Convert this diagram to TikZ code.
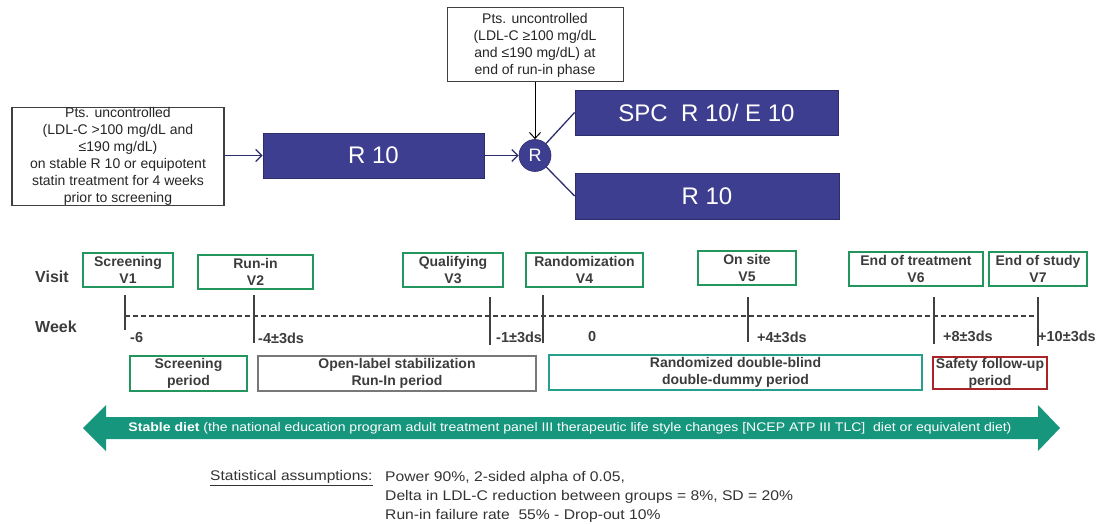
\documentclass[tikz,border=0pt]{standalone}
\usepackage{fontspec}
\setmainfont{Liberation Sans}
\usetikzlibrary{arrows.meta}
\definecolor{navy}{RGB}{62,62,145}
\definecolor{navyedge}{RGB}{45,45,110}
\definecolor{vgreen}{RGB}{34,150,92}
\definecolor{tealbox}{RGB}{38,160,140}
\definecolor{graybox}{RGB}{120,120,120}
\definecolor{redbox}{RGB}{170,35,40}
\definecolor{dietgreen}{RGB}{22,150,125}
\definecolor{txt}{RGB}{60,60,60}
\begin{document}
\begin{tikzpicture}[x=1pt,y=-1pt,
  infobox/.style={draw=black!75,line width=1.2pt,fill=white,inner sep=0pt,align=center,
    font=\fontsize{14}{17}\selectfont,text=black!85},
  armbox/.style={draw=navyedge,line width=0.8pt,fill=navy,inner sep=0pt,text=white,
    font=\fontsize{24}{28}\selectfont},
  visitbox/.style={draw=vgreen,line width=2.2pt,inner sep=0pt,align=center,text=txt,
    font=\bfseries\fontsize{14}{17}\selectfont,minimum height=34pt},
  periodbox/.style={line width=2.2pt,inner sep=0pt,align=center,text=txt,
    font=\bfseries\fontsize{14}{17}\selectfont},
  rowlabel/.style={anchor=west,inner sep=0pt,text=txt,font=\bfseries\fontsize{16}{19}\selectfont},
  weeklabel/.style={anchor=west,inner sep=0pt,text=txt,font=\bfseries\fontsize{14.5}{17}\selectfont},
  tick/.style={draw=black!75,line width=1.6pt},
  arr/.style={draw=navyedge,line width=1.3pt,-{Straight Barb[length=6pt,width=12pt]}},
  blackarr/.style={draw=black,line width=1pt,-{Straight Barb[length=6pt,width=11pt]}},
  armline/.style={draw=navyedge,line width=1.3pt},
  stattext/.style={anchor=west,inner sep=0pt,text=black!80,font=\fontsize{14}{17}\selectfont}
]
\useasboundingbox (0,0) rectangle (1104,524);

% ---------- top flow ----------
\node[infobox,minimum width=212pt,minimum height=97pt] (left) at (118,156.5)
  {Pts. uncontrolled\\(LDL-C >100 mg/dL and\\≤190 mg/dL)\\on stable R 10 or equipotent\\statin treatment for 4 weeks\\prior to screening};
\node[armbox,minimum width=221pt,minimum height=45pt] (r10a) at (373.5,155.5) {R 10};
\node[circle,fill=navy,draw=navyedge,line width=0.6pt,minimum size=32pt,inner sep=0pt,text=white,
  font=\fontsize{18}{21}\selectfont] (R) at (535,155.5) {R};
\node[infobox,line width=1pt,minimum width=176pt,minimum height=74pt] (top) at (535,45)
  {Pts. uncontrolled\\(LDL-C ≥100 mg/dL\\and ≤190 mg/dL) at\\end of run-in phase};
\node[armbox,minimum width=263pt,minimum height=45pt] (spc) at (706.5,112.5) {SPC\ \ R 10/ E 10};
\node[armbox,minimum width=264pt,minimum height=46pt] (r10b) at (707,196) {R 10};

\draw[arr] (left.east |- r10a.west) -- (r10a.west);
\draw[arr] (r10a.east) -- (R);
\draw[blackarr] (top.south) -- (R);
\draw[armline] (R) -- (spc.west);
\draw[armline] (R) -- (r10b.west);

% ---------- timeline ----------
\node[rowlabel] (visit) at (35,277) {Visit};
\node[rowlabel] (week) at (35,327) {Week};

\node[visitbox,minimum width=90pt]  (v1) at (128,270)   {Screening\\V1};
\node[visitbox,minimum width=115pt] (v2) at (255.5,272) {Run-in\\V2};
\node[visitbox,minimum width=100pt] (v3) at (453,270)   {Qualifying\\V3};
\node[visitbox,minimum width=117pt] (v4) at (584.5,270) {Randomization\\V4};
\node[visitbox,minimum width=98pt]  (v5) at (747,268)   {On site\\V5};
\node[visitbox,minimum width=134pt] (v6) at (916,269)   {End of treatment\\V6};
\node[visitbox,minimum width=98pt]  (v7) at (1038,269)  {End of study\\V7};

\draw[black!75,line width=1.3pt,dash pattern=on 5pt off 3pt] (125,316) -- (1038,316);
\draw[tick] (125,295) -- (125,330);
\draw[tick] (254,295) -- (254,343);
\draw[tick] (490,297) -- (490,345);
\draw[tick] (543,295) -- (543,343);
\draw[tick] (748,297) -- (748,342);
\draw[tick] (934,297) -- (934,344);
\draw[tick] (1038,297) -- (1038,346);

\node[weeklabel] (w1) at (130,338) {-6};
\node[weeklabel] (w2) at (258,338) {-4±3ds};
\node[weeklabel] (w3) at (496,337) {-1±3ds};
\node[weeklabel] (w4) at (588,337) {0};
\node[weeklabel] (w5) at (757,337) {+4±3ds};
\node[weeklabel] (w6) at (943,336) {+8±3ds};
\node[weeklabel] (w7) at (1038,336) {+10±3ds};

\node[periodbox,draw=vgreen,minimum width=117pt,minimum height=35pt] (p1) at (188.5,373.5) {Screening\\period};
\node[periodbox,draw=graybox,line width=1.8pt,minimum width=278pt,minimum height=35pt] (p2) at (397,373.5) {Open-label stabilization\\Run-In period};
\node[periodbox,draw=tealbox,minimum width=373pt,minimum height=35pt] (p3) at (735.5,372.5) {Randomized double-blind\\double-dummy period};
\node[periodbox,draw=redbox,minimum width=114pt,minimum height=32pt] (p4) at (990,373) {Safety follow-up\\period};

% ---------- diet arrow ----------
\fill[dietgreen] (83,428) -- (106,405) -- (106,417) -- (1038,417) -- (1038,405) -- (1060,428)
  -- (1038,451) -- (1038,439) -- (106,439) -- (106,451) -- cycle;
\node[inner sep=0pt,text=white,font=\fontsize{12.5}{15}\selectfont] (diet) at (570,428)
  {\resizebox{883pt}{\height}{\textbf{Stable diet} (the national education program adult treatment panel III therapeutic life style changes [NCEP ATP III TLC]\ \ diet or equivalent diet)}};

% ---------- statistics ----------
\node[stattext] (statlabel) at (210,478) {\scalebox{1.11}[1]{\underline{Statistical assumptions:}}};
\node[stattext] (s1) at (385,478) {\scalebox{1.12}[1]{Power 90\%, 2-sided alpha of 0.05,}};
\node[stattext] (s2) at (385,497) {\scalebox{1.12}[1]{Delta in LDL-C reduction between groups = 8\%, SD = 20\%}};
\node[stattext] (s3) at (385,516) {\scalebox{1.12}[1]{Run-in failure rate\ \ 55\% - Drop-out 10\%}};
\end{tikzpicture}
\end{document}
